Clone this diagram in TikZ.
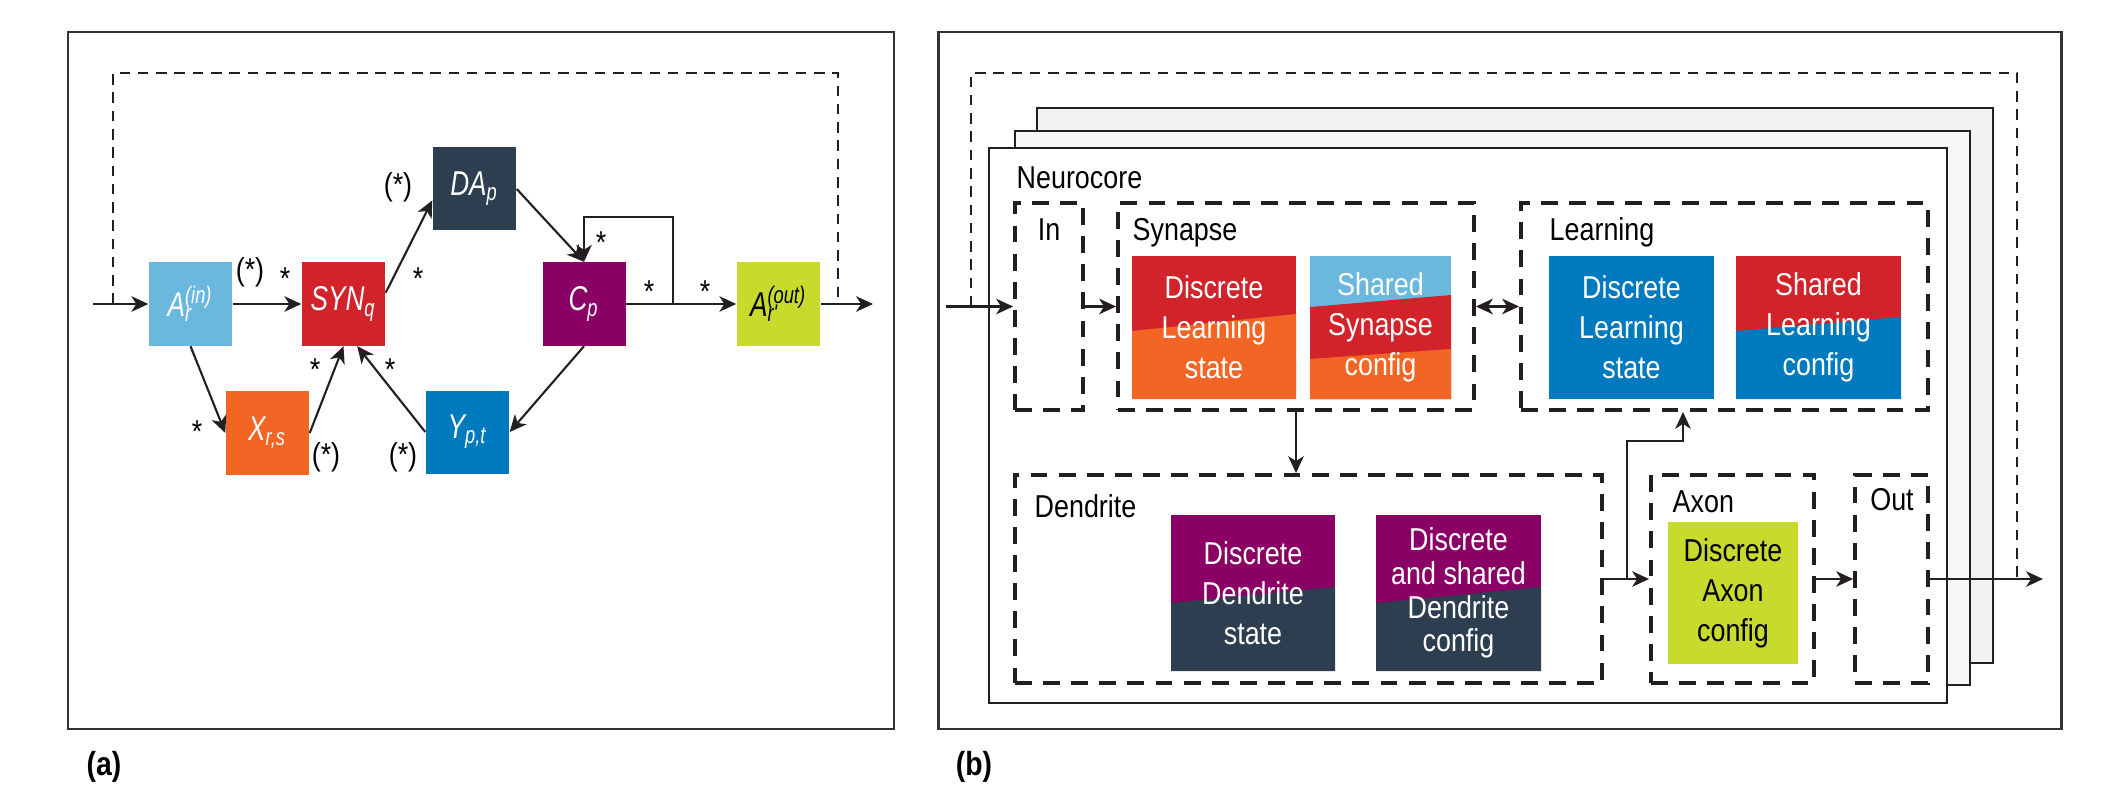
\documentclass[tikz,border=0pt]{standalone}
\usepackage{fontspec}
\setmainfont{Liberation Sans}[FakeStretch=0.85]
\newfontfamily\narrowfont{Liberation Sans}[FakeStretch=0.76]
\usetikzlibrary{arrows.meta}

\definecolor{ainblue}{RGB}{107,184,222}
\definecolor{synred}{RGB}{210,35,42}
\definecolor{dadark}{RGB}{45,62,80}
\definecolor{xorange}{RGB}{242,101,36}
\definecolor{yblue}{RGB}{0,122,191}
\definecolor{cpurple}{RGB}{138,0,101}
\definecolor{alime}{RGB}{200,218,43}
\definecolor{framegray}{RGB}{51,51,51}
\definecolor{linegray}{RGB}{35,31,32}
\definecolor{coreback}{RGB}{242,242,242}
\definecolor{coremid}{RGB}{246,247,246}

\newcommand\blockfont{\fontsize{9.8}{11}\narrowfont\itshape}
\newcommand\tilefont{\fontsize{9}{11.4}\selectfont}
\newcommand\starfont{\fontsize{9}{11}\selectfont}
% lower colour band of a tile, heights at the left and right edge
\newcommand\tileband[3]{\fill[#1] (path picture bounding box.south west) -- ++(0,#2)
  -- ([yshift=#3]path picture bounding box.south east) -- (path picture bounding box.south east) -- cycle;}

\begin{document}
\begin{tikzpicture}[
block/.style={rectangle, minimum size=0.83cm, inner sep=0pt, text=white, font=\blockfont},
tile/.style={rectangle, inner sep=0pt, align=center, text=white, font=\tilefont},
unit/.style={draw=linegray, line width=1.1pt, dash pattern=on 4.8pt off 3.2pt, inner sep=0pt},
unitlabel/.style={font=\tilefont, inner sep=0pt},
star/.style={font=\starfont, inner sep=0pt},
frame/.style={draw=framegray, line width=0.85pt},
core/.style={draw=linegray, line width=0.6pt},
feedback/.style={draw=linegray, line width=0.5pt, dash pattern=on 3pt off 2.2pt},
conn/.style={-{Stealth[length=4.8pt,width=4.4pt,inset=1.4pt]}, line width=0.6pt, draw=linegray},
biconn/.style={{Stealth[length=4.8pt,width=4.4pt,inset=1.4pt]}-{Stealth[length=4.8pt,width=4.4pt,inset=1.4pt]}, line width=0.6pt, draw=linegray}
]
    \useasboundingbox (0,0) rectangle (21.06,7.96);

    % Panel frames
    \draw[frame] (0.68,0.67) rectangle (8.94,7.64);
    \draw[frame] (9.38,0.67) rectangle (20.61,7.64);
    \node[font=\fontsize{9.5}{11}\selectfont\bfseries] (capa) at (1.04,0.29) {(a)};
    \node[font=\fontsize{9.5}{11}\selectfont\bfseries] (capb) at (9.74,0.29) {(b)};

    % (a) state blocks
    \node[block, fill=ainblue] (ain) at (1.905,4.92) {A\rlap{\textsubscript{r}}\textsuperscript{(in)}};
    \node[block, fill=synred] (syn) at (3.435,4.92) {SYN\textsubscript{q}};
    \node[block, fill=dadark] (dap) at (4.745,6.07) {DA\textsubscript{p}};
    \node[block, fill=xorange] (xrs) at (2.675,3.63) {X\textsubscript{r,s}};
    \node[block, fill=yblue] (ypt) at (4.675,3.64) {Y\textsubscript{p,t}};
    \node[block, fill=cpurple] (cp) at (5.84,4.92) {C\textsubscript{p}};
    \node[block, fill=alime, text=black] (aout) at (7.785,4.92) {A\rlap{\textsubscript{r'}}\textsuperscript{(out)}};

    \coordinate (ain-in) at (0.93,4.92);
    \coordinate (aout-out) at (8.73,4.92);
    \coordinate (loop) at (6.73,5.79);
    \coordinate (fbl) at (1.13,7.23);
    \coordinate (fbr) at (8.38,7.23);

    \draw[feedback] (fbl |- ain.west) -- (fbl) -- (fbr) -- (fbr |- aout.east);
    \draw[conn] (ain-in) -- (ain.west);
    \draw[conn] (ain.east) -- (syn.west);
    \draw[conn] (syn.15) -- (dap.195);
    \draw[conn] (dap.east) -- (cp.north);
    \draw[conn] (cp.south) -- (ypt.east);
    \draw[conn] (ypt.west) -- (syn.-72);
    \draw[conn] (xrs.east) -- (syn.south);
    \draw[conn] (ain.south) -- (xrs.west);
    \draw[conn] (cp.east) -- (aout.west);
    \draw[conn] (aout.east) -- (aout-out);
    \draw[conn] (loop |- cp.east) -- (loop) -| (cp.north);

    % multiplicities
    \node[star] (p1) at (2.50,5.24) {(*)};
    \node[star] (s1) at (2.85,5.17) {*};
    \node[star] (p2) at (3.98,6.09) {(*)};
    \node[star] (s2) at (4.18,5.17) {*};
    \node[star] (s3) at (3.15,4.26) {*};
    \node[star] (s4) at (3.90,4.26) {*};
    \node[star] (s5) at (1.97,3.64) {*};
    \node[star] (p3) at (3.26,3.39) {(*)};
    \node[star] (p4) at (4.03,3.39) {(*)};
    \node[star] (s6) at (6.01,5.53) {*};
    \node[star] (s7) at (6.49,5.04) {*};
    \node[star] (s8) at (7.05,5.04) {*};

    % (b) stacked neurocores
    \filldraw[core, fill=coreback] (10.37,1.33) rectangle (19.93,6.88);
    \filldraw[core, fill=coremid] (10.15,1.11) rectangle (19.70,6.65);
    \filldraw[core, fill=white] (9.89,0.93) rectangle (19.47,6.48);
    \node[unitlabel, anchor=base west] (ncore) at (10.16,6.07) {Neurocore};

    % units of one neurocore
    \node[unit, minimum width=0.68cm, minimum height=2.07cm] (inbox) at (10.49,4.895) {};
    \node[unit, minimum width=3.56cm, minimum height=2.07cm] (synbox) at (12.96,4.895) {};
    \node[unit, minimum width=4.07cm, minimum height=2.07cm] (lrnbox) at (17.245,4.895) {};
    \node[unit, minimum width=5.87cm, minimum height=2.08cm] (dendbox) at (13.085,2.17) {};
    \node[unit, minimum width=1.63cm, minimum height=2.08cm] (axonbox) at (17.325,2.17) {};
    \node[unit, minimum width=0.73cm, minimum height=2.08cm] (outbox) at (18.915,2.17) {};

    \node[unitlabel, anchor=base] (inlab) at (10.49,5.56) {In};
    \node[unitlabel, anchor=base west] (synlab) at (11.32,5.56) {Synapse};
    \node[unitlabel, anchor=base west] (lrnlab) at (15.49,5.56) {Learning};
    \node[unitlabel, anchor=base west] (dendlab) at (10.34,2.79) {Dendrite};
    \node[unitlabel, anchor=base west] (axonlab) at (16.72,2.83) {Axon};
    \node[unitlabel, anchor=base] (outlab) at (18.92,2.85) {Out};

    % memory tiles
    \node[tile, fill=synred, minimum width=1.64cm, minimum height=1.43cm,
      path picture={\tileband{xorange}{0.68cm}{0.85cm}}] (syndisc) at (12.14,4.685) {Discrete\\Learning\\state};
    \node[tile, fill=ainblue, minimum width=1.41cm, minimum height=1.43cm,
      path picture={\tileband{synred}{0.92cm}{1.04cm}\tileband{xorange}{0.40cm}{0.50cm}}] (synshr) at (13.805,4.685) {Shared\\Synapse\\config};
    \node[tile, fill=yblue, minimum width=1.65cm, minimum height=1.43cm] (lrndisc) at (16.315,4.685) {Discrete\\Learning\\state};
    \node[tile, fill=synred, minimum width=1.65cm, minimum height=1.43cm,
      path picture={\tileband{yblue}{0.68cm}{0.82cm}}] (lrnshr) at (18.185,4.685) {Shared\\Learning\\config};
    \node[tile, fill=cpurple, minimum width=1.64cm, minimum height=1.56cm,
      path picture={\tileband{dadark}{0.68cm}{0.84cm}}] (denddisc) at (12.53,2.03) {Discrete\\Dendrite\\state};
    \node[tile, fill=cpurple, minimum width=1.65cm, minimum height=1.56cm, font=\fontsize{9}{9.6}\selectfont,
      path picture={\tileband{dadark}{0.68cm}{0.84cm}}] (dendshr) at (14.585,2.03) {Discrete\\and shared\\Dendrite\\config};
    \node[tile, fill=alime, text=black, minimum width=1.30cm, minimum height=1.42cm] (axondisc) at (17.33,2.03) {Discrete\\Axon\\config};

    % (b) connectors
    \coordinate (bin) at (9.46,4.895);
    \coordinate (bout) at (20.43,2.17);
    \coordinate (fb1) at (9.71,7.23);
    \coordinate (fb2) at (20.17,7.23);
    \coordinate (br) at (16.27,2.17);
    \coordinate (lrnin) at (16.83,3.55);

    \draw[feedback] (fb1 |- inbox.west) -- (fb1) -- (fb2) -- (fb2 |- outbox.east);
    \draw[conn] (bin) -- (inbox.west);
    \draw[conn] (inbox.east) -- (synbox.west);
    \draw[biconn] (synbox.east) -- (lrnbox.west);
    \draw[conn] (synbox.south) -- (synbox.south |- dendbox.north);
    \draw[conn] (dendbox.east) -- (axonbox.west);
    \draw[conn] (br) |- (lrnin) -- (lrnin |- lrnbox.south);
    \draw[conn] (axonbox.east) -- (outbox.west);
    \draw[conn] (outbox.east) -- (bout);
\end{tikzpicture}
\end{document}
